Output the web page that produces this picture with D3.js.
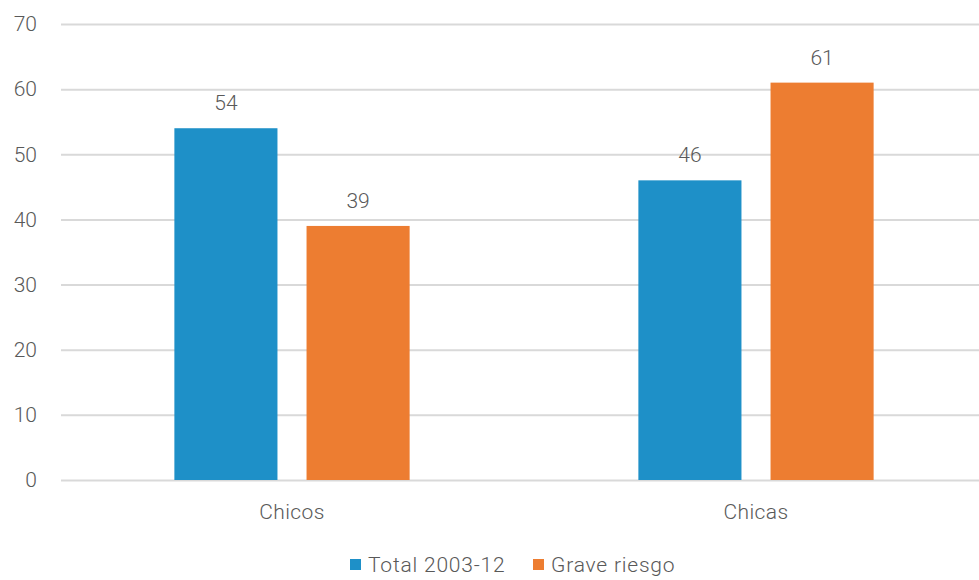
<!DOCTYPE html>
<html>
<head>
<meta charset="utf-8">
<script src="https://cdn.jsdelivr.net/npm/d3@7"></script>
<style>
  body { margin: 0; background: #fff; }
  text { font-family: Roboto, "Noto Sans", sans-serif; font-weight: 300; fill: #595959; }
</style>
</head>
<body>
<script>
const categories = ["Chicos", "Chicas"];
const series = ["Total 2003-12", "Grave riesgo"];
const totalValues = [54, 46];
const riesgoValues = [39, 61];
const yTicks = [0, 10, 20, 30, 40, 50, 60, 70];
const colors = ["#1e90c8", "#ed7d31"];

init();

function init() {
  let width = 979, height = 580;

  let svg = d3.select("body")
              .append("svg")
              .attr("width", width)
              .attr("height", height);

  let y = d3.scaleLinear().domain([0, 70]).range([480, 24]);

  let x0 = d3.scaleBand()
             .domain(categories)
             .range([60, 988])
             .paddingInner(0.493)
             .paddingOuter(0.2465);

  let x1 = d3.scaleBand()
             .domain(series)
             .range([0, x0.bandwidth()])
             .paddingInner(0.22);

  // gridlines
  let yAxis = d3.axisLeft(y).tickValues(yTicks).tickSize(-(width - 61)).tickPadding(24);
  let gy = svg.append("g")
              .attr("transform", "translate(61,0)")
              .call(yAxis);
  gy.select(".domain").remove();
  gy.selectAll(".tick line").attr("stroke", "#d9d9d9").attr("stroke-width", 2);
  gy.selectAll(".tick text")
    .style("font-size", "21px")
    .attr("fill", "#595959");

  let data = categories.map((c, i) => ({cat: c, vals: [totalValues[i], riesgoValues[i]]}));

  let groups = svg.selectAll(".grp")
                  .data(data)
                  .enter()
                  .append("g")
                  .attr("transform", d => "translate(" + x0(d.cat) + ",0)");

  groups.selectAll("rect")
        .data(d => d.vals.map((v, j) => ({s: series[j], v: v, j: j})))
        .enter()
        .append("rect")
        .attr("x", d => x1(d.s))
        .attr("y", d => y(d.v))
        .attr("width", x1.bandwidth())
        .attr("height", d => y(0) - y(d.v))
        .attr("fill", d => colors[d.j]);

  groups.selectAll(".lbl")
        .data(d => d.vals.map((v, j) => ({s: series[j], v: v})))
        .enter()
        .append("text")
        .attr("x", d => x1(d.s) + x1.bandwidth() / 2)
        .attr("y", d => y(d.v) - 18)
        .style("text-anchor", "middle")
        .style("font-size", "21px")
        .text(d => d.v);

  // category labels
  svg.selectAll(".cat")
     .data(categories)
     .enter()
     .append("text")
     .attr("x", d => x0(d) + x0.bandwidth() / 2)
     .attr("y", 519)
     .style("text-anchor", "middle")
     .style("font-size", "21px")
     .style("letter-spacing", "0.4px")
     .text(d => d);

  // legend
  let legendX = [350, 533];
  let lg = svg.selectAll(".leg")
              .data(series)
              .enter()
              .append("g")
              .attr("transform", (d, i) => "translate(" + legendX[i] + ",559)");
  lg.append("rect")
    .attr("width", 11)
    .attr("height", 11)
    .attr("fill", (d, i) => colors[i]);
  lg.append("text")
    .attr("x", 18)
    .attr("y", 13)
    .style("font-size", "21px")
    .style("letter-spacing", "0.8px")
    .text(d => d);
}
</script>
</body>
</html>
